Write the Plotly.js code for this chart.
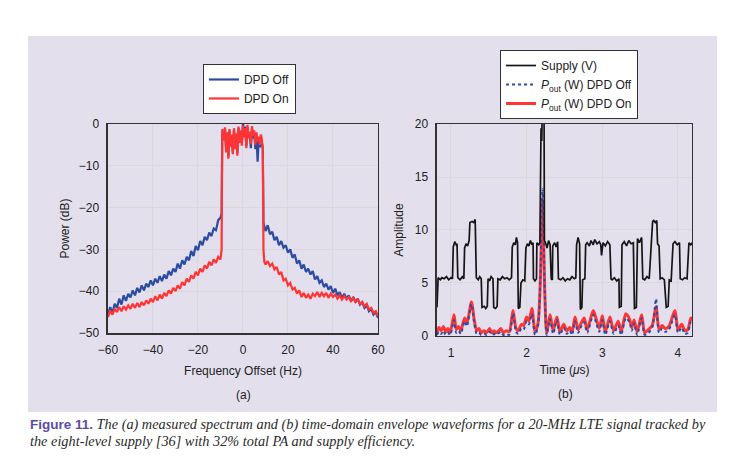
<!DOCTYPE html>
<html>
<head>
<meta charset="utf-8">
<script src="https://cdn.plot.ly/plotly-3.0.1.min.js"></script>
<style>body{margin:0;background:#fff}#fig{width:730px;height:466px}</style>
</head>
<body>
<div id="fig"></div>
<script>
// (a) spectrum
var freqHz = [-60,-59,-58,-57,-56,-55,-54,-53,-52,-51,-50,-49,-48,-47,-46,-45,-44,-43,-42,-41,
  -40,-39,-38,-37,-36,-35,-34,-33,-32,-31,-30,-29,-28,-27,-26,-25,-24,-23,-22,-21,
  -20,-19,-18,-17,-16,-15,-14,-13,-12,-11,-10,
  -9.5,-9.2,-8.5,-8,-7.5,-7,-6.5,-6,-5.5,-5,-4.5,-4,-3.5,-3,-2.5,-2,-1.5,-1,-0.5,0,
  0.5,1,1.5,2,2.5,3,3.5,4,4.5,5,5.5,6,6.5,7,7.5,8,8.5,8.8,9.1,9.5,
  10,11,12,13,14,15,16,17,18,19,20,21,22,23,24,25,26,27,28,29,
  30,31,32,33,34,35,36,37,38,39,40,41,42,43,44,45,46,47,48,49,
  50,51,52,53,54,55,56,57,58,59,60];

var dpdOffDb = [-45.5,-43.8,-45.2,-43.0,-44.0,-41.8,-43.2,-41.0,-42.3,-40.6,
  -41.5,-39.8,-41.0,-39.2,-40.3,-38.6,-39.8,-38.2,-39.0,-37.4,
  -38.6,-37.0,-38.0,-36.4,-37.6,-36.0,-37.0,-35.2,-36.2,-34.6,
  -35.4,-33.4,-34.6,-32.6,-33.6,-31.8,-32.6,-30.4,-31.6,-29.2,
  -30.2,-28.0,-29.0,-27.0,-27.8,-26.0,-26.8,-25.0,-25.4,-23.0,-22.4,
  -21.5,-1.8,
  -3.6,-1.2,-6.2,-2.4,-7.8,-1.6,-5.0,-2.8,-6.8,-1.4,-5.6,-2.6,-7.0,-1.0,-4.0,-1.8,-4.6,0.4,
  -2.8,-0.6,-5.2,-0.8,-3.0,-2.2,-5.8,-1.2,-3.4,-2.0,-6.0,-2.6,-9.0,-3.4,-5.6,-3.0,-4.6,
  -6.0,-23.6,-24.8,
  -25.6,-24.2,-26.4,-25.8,-27.8,-27.0,-29.0,-28.0,-29.6,-29.0,
  -30.8,-30.0,-32.0,-31.2,-33.4,-32.6,-34.6,-33.6,-35.4,-34.6,
  -36.0,-35.2,-37.2,-36.4,-38.0,-37.4,-39.0,-38.2,-39.6,-38.8,
  -40.4,-39.4,-41.0,-40.2,-41.6,-40.6,-41.8,-41.0,-42.4,-41.4,
  -42.6,-41.8,-43.2,-42.6,-44.0,-43.4,-44.8,-44.2,-45.6,-45.0,-46.4];

var dpdOnDb = [-46.2,-44.6,-45.6,-44.2,-45.0,-43.8,-44.8,-43.6,-44.4,-43.4,
  -44.2,-43.0,-44.0,-42.8,-43.8,-42.6,-43.4,-42.2,-43.0,-41.8,
  -42.6,-41.2,-42.2,-40.8,-41.8,-40.4,-41.2,-39.8,-40.6,-39.2,
  -40.0,-38.6,-39.4,-37.8,-38.6,-37.0,-37.8,-36.2,-37.0,-35.4,
  -36.2,-34.6,-35.4,-33.8,-34.6,-33.0,-33.8,-32.4,-33.2,-31.8,-32.4,
  -30.0,-1.2,
  -4.0,-0.8,-6.8,-2.0,-8.3,-1.2,-5.5,-2.5,-7.2,-1.0,-6.0,-2.2,-7.6,-0.6,-4.5,-1.5,-5.2,-0.3,
  -3.2,-1.0,-5.8,-0.2,-3.5,-1.8,-4.8,-0.5,-2.8,-1.5,-5.0,-2.0,-4.2,-3.0,-5.0,-2.5,-4.2,
  -5.5,-30.0,-33.0,
  -33.6,-32.8,-34.0,-33.4,-34.8,-34.2,-36.0,-35.4,-37.4,-37.0,
  -38.6,-38.0,-39.6,-39.2,-40.6,-39.8,-41.4,-40.4,-41.6,-40.8,
  -41.8,-40.6,-41.2,-40.2,-41.4,-40.4,-41.2,-40.4,-41.6,-40.6,
  -41.4,-40.8,-41.8,-41.0,-42.0,-41.2,-42.0,-41.4,-42.4,-41.6,
  -42.6,-42.0,-43.0,-42.6,-43.6,-43.0,-44.4,-44.0,-45.2,-44.8,-46.0];

// (b) supply waveform (eight-level steps)
var supplyT = [0.815,0.83,0.86,0.88,0.91,0.94,0.97,1.00,1.02,1.03,1.05,1.07,1.08,1.09,1.12,1.15,1.17,
  1.18,1.20,1.22,1.24,1.25,1.28,1.30,1.32,1.335,1.36,1.38,1.40,1.41,1.44,1.46,1.48,1.49,1.51,1.53,
  1.555,1.565,1.59,1.61,1.62,1.65,1.68,1.71,1.74,1.77,1.80,1.81,1.83,1.85,1.865,1.88,1.89,1.91,
  1.925,1.95,1.975,1.99,2.01,2.03,2.05,2.07,2.085,2.09,2.11,2.13,2.135,2.16,2.175,2.18,2.19,2.20,
  2.205,2.23,2.235,2.25,2.27,2.29,2.31,2.325,2.34,2.345,2.37,2.39,2.41,2.42,2.45,2.48,2.51,2.54,
  2.57,2.60,2.63,2.65,2.66,2.68,2.70,2.71,2.73,2.74,2.77,2.78,2.80,2.83,2.85,2.88,2.90,2.93,2.96,
  2.98,2.99,3.01,3.04,3.07,3.10,3.115,3.13,3.16,3.19,3.22,3.225,3.25,3.26,3.29,3.32,3.35,3.38,
  3.41,3.415,3.425,3.45,3.465,3.49,3.52,3.535,3.56,3.59,3.62,3.665,3.68,3.70,3.72,3.73,3.75,
  3.765,3.79,3.82,3.845,3.87,3.885,3.91,3.935,3.96,3.99,4.02,4.03,4.06,4.09,4.12,4.145,4.17,4.185];
var supplyV = [2.7,5.5,5.3,5.5,5.4,5.6,5.3,5.5,5.4,8.4,8.9,8.6,8.7,5.5,5.3,5.6,5.4,
  8.3,8.7,8.5,9.0,10.7,10.8,10.7,11.0,5.5,5.3,5.6,5.4,2.7,2.8,2.6,2.8,5.4,5.2,5.6,
  5.4,2.7,2.6,2.8,5.4,5.3,5.6,5.4,5.5,5.3,5.5,8.4,8.8,8.6,9.3,8.8,2.6,2.7,
  5.0,5.3,5.2,8.3,8.7,8.5,9.0,8.6,8.8,5.4,5.2,5.4,8.8,8.6,8.8,18.5,19.6,18.4,
  21,21,9.0,8.8,8.3,9.0,8.6,5.4,5.3,8.5,8.8,8.4,8.9,5.4,5.3,5.5,5.2,5.4,
  5.3,5.6,5.4,5.5,8.6,9.3,8.7,2.5,2.7,5.3,5.4,8.6,8.8,8.5,9.0,8.6,9.1,8.7,8.9,
  8.6,7.6,8.8,8.5,8.9,8.6,5.4,5.3,5.5,5.2,5.4,2.7,2.8,8.6,8.9,8.5,9.0,8.7,
  8.8,5.4,2.6,2.7,9.2,8.8,9.3,5.4,5.3,5.6,5.4,10.8,10.9,10.7,10.9,8.7,8.5,
  5.4,5.5,5.3,2.7,2.8,5.3,5.2,8.7,8.9,8.6,8.8,5.4,5.3,5.5,5.4,8.8,8.6,8.8];

// (b) PA output power envelopes
var poutT = [0.815,0.84,0.87,0.90,0.93,0.96,0.99,1.04,1.07,1.10,1.13,1.18,1.21,1.27,1.31,1.34,1.37,1.40,
  1.44,1.47,1.51,1.54,1.57,1.60,1.66,1.69,1.73,1.77,1.82,1.86,1.89,1.93,1.96,2.00,2.03,2.07,2.11,
  2.15,2.18,2.21,2.24,2.265,2.31,2.35,2.40,2.44,2.49,2.53,2.57,2.60,2.64,2.68,2.72,2.76,2.80,2.88,
  2.92,2.96,3.00,3.04,3.10,3.15,3.21,3.25,3.31,3.36,3.39,3.42,3.46,3.52,3.56,3.61,3.66,3.71,3.75,
  3.79,3.83,3.88,3.96,4.00,4.05,4.09,4.13,4.17,4.185];
var poutOnW = [0.3,0.8,0.5,0.9,0.4,0.7,0.3,2.0,0.6,0.9,0.5,1.7,1.2,3.2,1.4,0.5,0.7,0.3,
  0.5,0.3,0.7,0.3,0.5,0.3,0.7,0.3,0.5,0.4,2.4,0.7,0.5,1.1,1.0,1.8,1.4,2.6,0.4,
  1.2,5.0,12.8,4.0,0.3,2.0,0.5,1.8,0.4,1.1,0.5,0.8,0.4,1.8,0.6,1.2,1.7,0.6,2.4,
  1.6,0.7,1.9,0.4,1.8,0.5,1.4,0.4,2.1,1.6,0.8,1.5,0.4,2.0,0.3,0.6,1.0,2.75,0.6,
  1.0,0.7,0.9,2.4,0.6,1.1,0.5,0.6,1.7,1.5];
var poutOffW = [0.1,0.4,0.2,0.5,0.1,0.3,0.1,1.5,0.3,0.5,0.2,1.4,0.9,3.0,1.1,0.2,0.3,0.1,
  0.2,0.1,0.4,0.1,0.2,0.1,0.4,0.1,0.2,0.1,2.1,0.4,0.2,0.7,0.6,1.4,1.1,2.1,0.1,
  0.9,5.2,13.9,4.3,0.1,1.6,0.2,1.5,0.1,0.8,0.2,0.5,0.1,1.4,0.3,0.9,1.3,0.3,2.0,
  1.2,0.4,1.5,0.1,1.4,0.2,1.0,0.1,1.7,1.3,0.5,1.2,0.1,1.7,0.1,0.3,0.8,3.5,0.3,
  0.7,0.4,0.6,2.0,0.3,0.8,0.2,0.3,1.4,1.2];

var blue = '#2b4ca0', red = '#ff3535';

// legend2 is listed reversed so the red band sits under the dotted blue one
var data = [
  {x: freqHz, y: dpdOffDb, name: 'DPD Off', type: 'scatter', mode: 'lines',
   line: {color: blue, width: 2.2}, xaxis: 'x', yaxis: 'y', legend: 'legend'},
  {x: freqHz, y: dpdOnDb, name: 'DPD On', type: 'scatter', mode: 'lines',
   line: {color: red, width: 2.2}, xaxis: 'x', yaxis: 'y', legend: 'legend'},
  {x: poutT, y: poutOnW, name: '<i>P</i><sub>out</sub> (W) DPD On', type: 'scatter', mode: 'lines',
   line: {color: red, width: 3, shape: 'spline', smoothing: 0.7}, xaxis: 'x2', yaxis: 'y2', legend: 'legend2'},
  {x: poutT, y: poutOffW, name: '<i>P</i><sub>out</sub> (W) DPD Off', type: 'scatter', mode: 'lines',
   line: {color: blue, width: 2, dash: 'dot', shape: 'spline', smoothing: 0.7}, xaxis: 'x2', yaxis: 'y2', legend: 'legend2'},
  {x: supplyT, y: supplyV, name: 'Supply (V)', type: 'scatter', mode: 'lines',
   line: {color: '#151515', width: 1.7}, xaxis: 'x2', yaxis: 'y2', legend: 'legend2'}
];

var axisStyle = {
  showline: true, mirror: true, linecolor: '#333', linewidth: 1.5,
  showgrid: true, gridcolor: '#d9d9d9', gridwidth: 1, zeroline: false,
  ticks: 'outside', ticklen: 5, tickcolor: 'rgba(0,0,0,0)',
  tickfont: {size: 12, color: '#222'}
};

var layout = {
  width: 730, height: 466,
  margin: {l: 0, r: 0, t: 0, b: 0},
  paper_bgcolor: '#ffffff',
  plot_bgcolor: '#f3f0ee',
  font: {family: 'Liberation Sans, Arial, sans-serif', size: 12, color: '#222'},
  xaxis: Object.assign({}, axisStyle, {domain: [0.1479, 0.5178], range: [-60, 60], dtick: 20,
    title: {text: 'Frequency Offset (Hz)', standoff: 10, font: {size: 12}}}),
  yaxis: Object.assign({}, axisStyle, {domain: [0.2854, 0.7339], range: [-50, 0], dtick: 10,
    title: {text: 'Power (dB)', standoff: 6, font: {size: 12}}}),
  xaxis2: Object.assign({}, axisStyle, {domain: [0.5986, 0.9479], range: [0.815, 4.185], dtick: 1, anchor: 'y2',
    title: {text: 'Time (<i>μ</i>s)', standoff: 6, font: {size: 12}}}),
  yaxis2: Object.assign({}, axisStyle, {domain: [0.2790, 0.7339], range: [0, 20], dtick: 5, anchor: 'x2',
    title: {text: 'Amplitude', standoff: 8, font: {size: 12}}}),
  legend: {x: 0.278, y: 0.8627, xanchor: 'left', yanchor: 'top', bgcolor: '#ffffff',
    bordercolor: '#333', borderwidth: 1, font: {size: 12, color: '#222'}},
  legend2: {x: 0.685, y: 0.8927, xanchor: 'left', yanchor: 'top', bgcolor: '#ffffff',
    bordercolor: '#333', borderwidth: 1, font: {size: 12, color: '#222'}, traceorder: 'reversed'},
  shapes: [{type: 'rect', xref: 'paper', yref: 'paper', x0: 0.0384, x1: 0.9822, y0: 0.1159, y1: 0.9227,
    fillcolor: '#e3dfec', line: {width: 0}, layer: 'below'}],
  annotations: [
    {text: '(a)', xref: 'paper', yref: 'paper', x: 0.3329, y: 0.1524, xanchor: 'center', yanchor: 'middle',
     showarrow: false, font: {size: 12}},
    {text: '(b)', xref: 'paper', yref: 'paper', x: 0.774, y: 0.1545, xanchor: 'center', yanchor: 'middle',
     showarrow: false, font: {size: 12}},
    {text: "<span style='font-family:Liberation Sans Narrow, Liberation Sans, sans-serif;font-style:normal;font-weight:bold;font-size:13.5px;color:#5a4ea2'>Figure 11.</span>" +
      " <i>The (a) measured spectrum and (b) time-domain envelope waveforms for a 20-MHz LTE signal tracked by</i>",
     xref: 'paper', yref: 'paper', x: 0.0384, y: 0.0901, xanchor: 'left', yanchor: 'middle', align: 'left',
     showarrow: false, font: {family: 'Liberation Serif, serif', size: 14.3, color: '#2a2a2a'}},
    {text: '<i>the eight-level supply [36] with 32% total PA and supply efficiency.</i>',
     xref: 'paper', yref: 'paper', x: 0.0384, y: 0.0545, xanchor: 'left', yanchor: 'middle', align: 'left',
     showarrow: false, font: {family: 'Liberation Serif, serif', size: 14.3, color: '#2a2a2a'}}
  ]
};

Plotly.newPlot('fig', data, layout, {displayModeBar: false, staticPlot: true});
</script>
</body>
</html>
